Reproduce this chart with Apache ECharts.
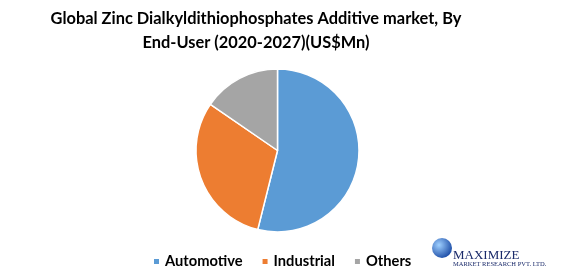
<!DOCTYPE html>
<html><head><meta charset="utf-8">
<script src="https://cdn.jsdelivr.net/npm/echarts@6/dist/echarts.min.js"></script>
<style>html,body{margin:0;padding:0;background:#fff}#c{width:567px;height:272px}</style>
</head><body><div id="c"></div>
<script>
const categories = ["Automotive", "Industrial", "Others"];
const values = [53.9, 30.7, 15.4];
const colors = ["#5B9BD5", "#ED7D31", "#A5A5A5"];
const titleLines = ["Global Zinc Dialkyldithiophosphates Additive market, By", "End-User (2020-2027)(US$Mn)"];

const chart = echarts.init(document.getElementById('c'), null, {renderer: 'canvas'});
chart.setOption({
  animation: false,
  color: colors,
  title: {
    text: titleLines.join('\n'),
    left: 256, top: 7, textAlign: 'center', padding: 0,
    textStyle: {fontFamily: 'Lato', fontWeight: 'bold', fontSize: 16.4, lineHeight: 24, color: '#000'}
  },
  legend: {
    data: categories, left: 152, top: 254, padding: 0,
    icon: 'rect', itemWidth: 7, itemHeight: 7, itemGap: 18,
    textStyle: {fontFamily: 'Lato', fontWeight: 'bold', fontSize: 14.7, color: '#000'}
  },
  series: [{
    type: 'pie', center: [277.5, 150.5], radius: 81.5, startAngle: 90,
    label: {show: false}, labelLine: {show: false},
    itemStyle: {borderColor: '#fff', borderWidth: 1.5},
    data: categories.map((n, i) => ({name: n, value: values[i]}))
  }],
  graphic: [
    {type: 'circle', shape: {cx: 442, cy: 248, r: 10},
     style: {fill: new echarts.graphic.RadialGradient(0.35, 0.35, 0.8, [{offset: 0, color: '#9fd0ff'}, {offset: 1, color: '#0a3a9a'}])}},
    {type: 'text', left: 453, top: 249, style: {text: 'MAXIMIZE', font: '13px "Liberation Serif"', fill: '#1a2a6a'}},
    {type: 'text', left: 453, top: 261, style: {text: 'MARKET RESEARCH PVT. LTD.', font: '6.5px "Liberation Serif"', fill: '#1a2a6a'}}
  ]
});
</script></body></html>
